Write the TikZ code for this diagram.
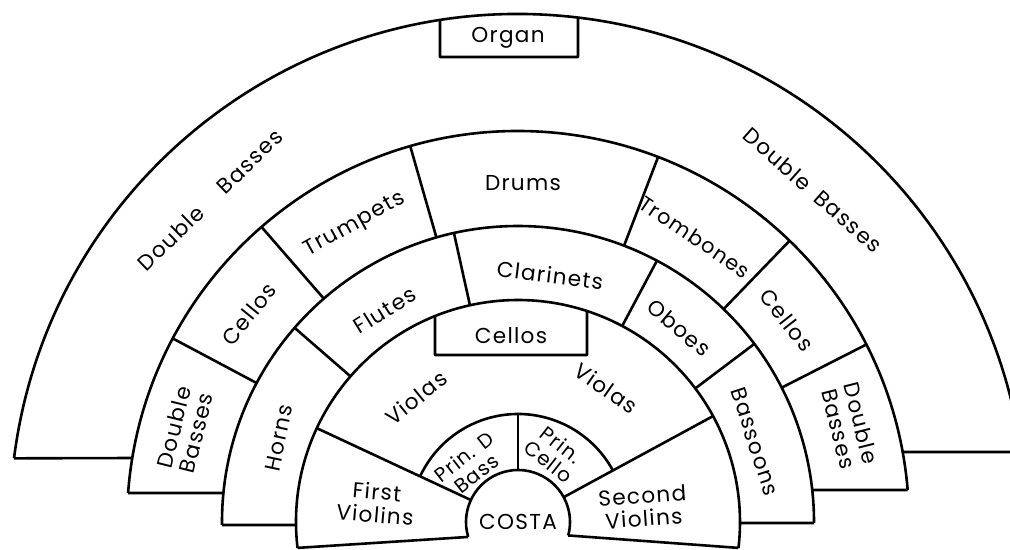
\documentclass[tikz,border=0pt]{standalone}
\usepackage{fontspec}
\setmainfont{Poppins}[LetterSpace=6]

\begin{document}
\begin{tikzpicture}[x=0.5pt,y=0.5pt,line width=1.3pt,line join=round,
  lbl/.style={font=\fontsize{10.8}{11.5}\selectfont,align=center,inner sep=0pt}]
\useasboundingbox (-518,-28) rectangle (492,522);
\begin{scope}
\clip (-518,-28) rectangle (492,522);
\draw (172.80:508) arc[start angle=172.80, end angle=7.92, radius=508];
\draw (172.80:508) -- (170.58:391);
\draw (7.92:508) -- (10.31:391);
\draw (175.75:391) arc[start angle=175.75, end angle=4.69, radius=391];
\draw (175.75:391) -- (174.38:296);
\draw (4.69:391) -- (6.21:296);
\draw (180.58:296) arc[start angle=180.58, end angle=-0.19, radius=296];
\draw (180.58:296) -- (180.77:222);
\draw (-0.19:296) -- (-0.26:222);
\draw (186.70:222) arc[start angle=186.70, end angle=-6.70, radius=222];
\draw (186.70:222) -- (196.70:52);
\draw (-6.70:222) -- (-15.00:52);
\draw (155.00:108) arc[start angle=155.00, end angle=28.50, radius=108];
\draw (196.70:52) arc[start angle=196.70, end angle=-15.00, radius=52];
\foreach \a in {152,131,106,69,46,27}
  \draw (\a:296) -- (\a:391);
\foreach \a in {139,102.5,62,37}
  \draw (\a:222) -- (\a:296);
\draw (155:52) -- (155:222);
\draw (28.5:52) -- (28.5:222);
\draw (90:52) -- (90:108);
\draw (98.83:508) -- (-78,465) -- (60,465) -- (83.22:508);
\draw (111.95:222) -- (-83,167) -- (69,167) -- (71.89:222);
\end{scope}
\node[lbl] (organ) at (-10,484) {Organ};
\node[lbl,rotate=44] (dbl1) at (-308,322) {Double\hspace{14pt}Basses};
\node[lbl,rotate=-41.5] (dbr1) at (295,332) {Double\hspace{6pt}Basses};
\node[lbl] (drums) at (5,339) {Drums};
\node[lbl,rotate=29] (trumpets) at (-163,297) {Trumpets};
\node[lbl,rotate=51] (cellol) at (-269,208) {Cellos};
\node[lbl,rotate=76] (dbl2) at (-333,92) {Double\\Basses};
\node[lbl,rotate=-34,font=\fontsize{10.4}{11}\selectfont] (trombones) at (177,285) {Trombones};
\node[lbl,rotate=-52] (celloR) at (269,202) {Cellos};
\node[lbl,rotate=-76] (dbr2) at (332,96) {Double\\Basses};
\node[lbl,rotate=78] (horns) at (-239,84) {Horns};
\node[lbl,rotate=32] (flutes) at (-133,212) {Flutes};
\node[lbl,rotate=-7] (clarinets) at (32,247) {Clarinets};
\node[lbl,rotate=-40] (oboes) at (161,194) {Oboes};
\node[lbl,rotate=-72] (bassoons) at (237,80) {Bassoons};
\node[lbl] (cellom) at (-7,186) {Cellos};
\node[lbl,rotate=39] (violal) at (-102,124) {Violas};
\node[lbl,rotate=-35] (violar) at (88,134) {Violas};
\node[lbl,rotate=-5] (firstv) at (-142,19) {First\\Violins};
\node[lbl,rotate=4] (secondv) at (125,15) {Second\\Violins};
\node[lbl,rotate=38,font=\fontsize{10}{10.5}\selectfont] (prind) at (-48,57) {Prin. D\\Bass};
\node[lbl,rotate=-38,font=\fontsize{10}{10.5}\selectfont] (princ) at (37,69) {Prin.\\Cello};
\node[lbl] (costa) at (0,0) {COSTA};
\end{tikzpicture}
\end{document}
